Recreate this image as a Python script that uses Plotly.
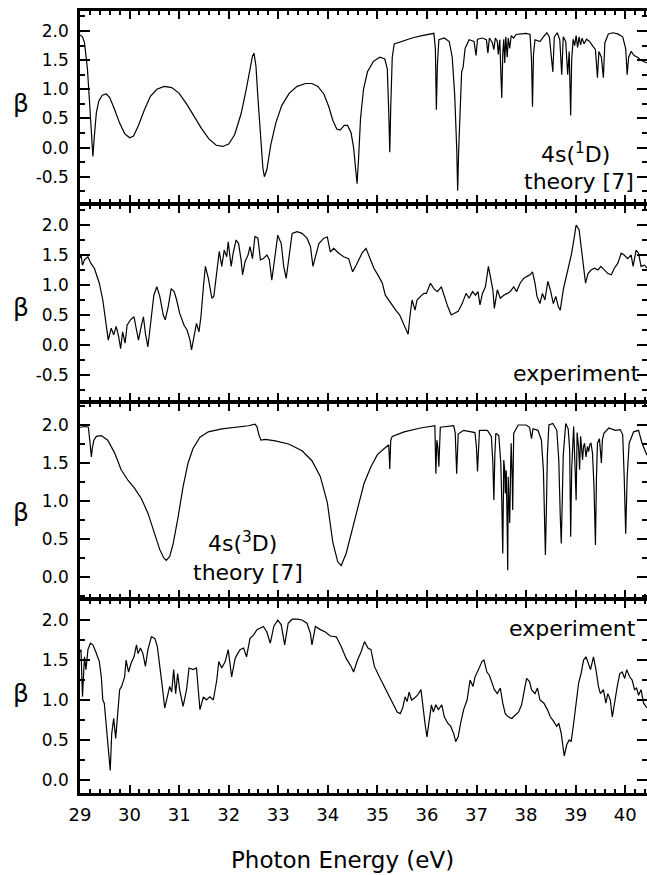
import plotly.graph_objects as go

# ---------------- data ----------------
# Panel 1: 4s(1D) theory
th1_x = [29.00,29.05,29.09,29.12,29.15,29.18,29.21,29.24,29.26,29.29,29.33,29.38,29.45,29.53,29.60,29.70,29.80,29.90,30.00,30.08,
         30.18,30.30,30.42,30.55,30.70,30.85,31.00,31.15,31.30,31.45,31.60,31.75,31.88,32.00,32.12,32.25,32.35,32.43,32.48,32.51,
         32.55,32.59,32.64,32.69,32.72,32.77,32.85,32.95,33.07,33.22,33.38,33.55,33.68,33.80,33.92,34.02,34.10,34.18,34.25,34.33,
         34.40,34.47,34.52,34.56,34.59,34.62,34.66,34.72,34.80,34.92,35.05,35.15,35.20,35.23,35.25,35.27,35.30,35.34,35.50,35.70,
         35.90,36.14,36.17,36.19,36.21,36.24,36.35,36.45,36.51,36.56,36.60,36.62,36.64,36.67,36.70,36.73,36.77,36.85,36.95,36.99,
         37.02,37.12,37.20,37.23,37.26,37.32,37.35,37.38,37.42,37.44,37.47,37.49,37.51,37.53,37.55,37.57,37.59,37.62,37.64,37.67,
         37.70,37.75,37.80,37.90,38.00,38.08,38.11,38.13,38.15,38.18,38.28,38.35,38.42,38.47,38.51,38.54,38.57,38.63,38.68,38.72,
         38.75,38.80,38.84,38.87,38.90,38.92,38.95,38.98,39.01,39.04,39.07,39.10,39.13,39.17,39.22,39.28,39.34,39.40,39.44,39.47,
         39.52,39.56,39.59,39.66,39.75,39.85,39.95,40.01,40.04,40.07,40.12,40.18,40.25,40.32,40.44]
th1_y = [1.93,1.90,1.80,1.62,1.35,0.95,0.45,0.00,-0.15,0.20,0.60,0.80,0.90,0.92,0.86,0.65,0.42,0.24,0.17,0.20,
         0.38,0.65,0.88,1.00,1.05,1.03,0.93,0.75,0.54,0.33,0.15,0.04,0.02,0.06,0.22,0.58,0.98,1.38,1.57,1.62,
         1.40,0.85,0.15,-0.35,-0.50,-0.38,0.05,0.42,0.72,0.93,1.05,1.10,1.10,1.05,0.92,0.70,0.47,0.32,0.30,0.38,
         0.38,0.25,0.00,-0.40,-0.62,-0.20,0.50,1.00,1.30,1.48,1.55,1.52,1.35,0.60,-0.08,0.70,1.55,1.78,1.83,1.88,
         1.92,1.96,1.70,0.65,1.40,1.85,1.88,1.82,1.55,0.90,0.00,-0.74,-0.05,0.85,1.30,1.38,1.70,1.85,1.82,1.58,
         1.86,1.88,1.85,1.62,1.88,1.80,1.68,1.88,1.82,1.60,1.85,1.30,0.85,1.60,1.86,1.45,1.90,1.55,1.88,1.70,
         1.92,1.88,1.94,1.95,1.96,1.94,1.50,0.70,1.60,1.85,1.82,1.90,1.97,1.90,1.60,1.30,1.90,1.97,1.85,1.25,
         1.90,1.82,1.25,1.65,0.55,1.50,1.86,1.75,1.92,1.72,1.90,1.76,1.88,1.78,1.86,1.82,1.75,1.68,1.20,1.65,
         1.55,1.20,1.80,1.95,1.97,1.95,1.90,1.70,1.25,1.55,1.65,1.58,1.55,1.50,1.45]

# Panel 2: 4s(1D) experiment
ex1_x = [29.00,29.02,29.05,29.09,29.16,29.22,29.29,29.39,29.46,29.53,29.57,29.63,29.68,29.73,29.78,29.82,29.86,29.91,29.95,30.02,
         30.09,30.14,30.18,30.24,30.28,30.32,30.37,30.44,30.49,30.55,30.61,30.68,30.72,30.78,30.84,30.90,30.95,31.01,31.10,31.16,
         31.22,31.25,31.30,31.35,31.40,31.44,31.49,31.53,31.59,31.66,31.70,31.76,31.81,31.86,31.91,31.96,31.99,32.05,32.09,32.15,
         32.20,32.25,32.28,32.33,32.39,32.43,32.48,32.53,32.59,32.64,32.70,32.77,32.82,32.87,32.93,32.99,33.06,33.11,33.16,33.21,
         33.28,33.38,33.48,33.58,33.65,33.70,33.75,33.82,33.92,33.99,34.05,34.12,34.22,34.32,34.42,34.50,34.56,34.63,34.69,34.77,
         34.85,34.93,35.03,35.10,35.16,35.27,35.37,35.45,35.52,35.57,35.62,35.66,35.70,35.76,35.80,35.87,35.94,35.99,36.07,36.14,
         36.21,36.29,36.35,36.42,36.49,36.56,36.63,36.71,36.79,36.85,36.92,36.98,37.03,37.07,37.12,37.18,37.24,37.28,37.33,37.36,
         37.42,37.48,37.55,37.62,37.68,37.75,37.81,37.88,37.95,38.01,38.08,38.13,38.18,38.22,38.28,38.33,38.38,38.44,38.49,38.55,
         38.60,38.65,38.69,38.75,38.81,38.87,38.92,38.97,39.01,39.07,39.11,39.16,39.20,39.25,39.31,39.38,39.45,39.51,39.58,39.65,
         39.72,39.78,39.85,39.92,39.98,40.05,40.12,40.16,40.22,40.27,40.32,40.39,40.44]
ex1_y = [1.45,1.50,1.33,1.42,1.47,1.36,1.28,1.03,0.75,0.36,0.08,0.28,0.17,0.31,0.14,-0.06,0.22,0.03,0.33,0.42,
         0.47,0.25,0.08,0.33,0.47,0.19,-0.03,0.47,0.83,0.97,0.81,0.50,0.42,0.64,0.94,0.89,0.75,0.53,0.33,0.25,
         0.08,-0.08,0.14,0.36,0.22,0.47,0.97,1.31,1.11,0.78,0.81,1.25,1.56,1.31,1.58,1.47,1.72,1.31,1.53,1.75,
         1.69,1.42,1.17,1.39,1.50,1.64,1.44,1.81,1.78,1.42,1.44,1.50,1.42,1.08,1.47,1.83,1.69,1.31,1.11,1.42,
         1.86,1.89,1.86,1.78,1.64,1.31,1.47,1.69,1.78,1.80,1.55,1.61,1.53,1.47,1.44,1.22,1.31,1.42,1.53,1.61,
         1.44,1.28,1.14,1.03,0.83,0.69,0.58,0.50,0.36,0.28,0.18,0.50,0.75,0.58,0.75,0.81,0.86,0.86,1.03,0.94,
         0.89,0.97,0.81,0.64,0.50,0.53,0.56,0.69,0.86,0.78,0.89,0.83,0.89,0.67,0.86,0.97,1.31,1.14,0.92,0.61,
         0.92,0.78,0.83,0.86,0.89,0.97,0.89,1.03,1.11,1.14,1.17,1.22,1.03,0.81,0.69,0.86,0.75,1.06,0.92,0.69,
         0.81,0.64,0.58,0.92,1.14,1.31,1.53,1.78,2.00,1.92,1.64,1.31,1.03,1.19,1.25,1.28,1.25,1.31,1.25,1.19,
         1.17,1.28,1.36,1.53,1.50,1.44,1.50,1.31,1.58,1.53,1.31,1.33,1.28]

# Panel 3: 4s(3D) theory
th3_x = [29.00,29.10,29.17,29.19,29.21,29.23,29.25,29.28,29.33,29.43,29.56,29.70,29.83,29.97,30.10,30.24,30.37,30.51,30.61,30.69,
         30.74,30.81,30.88,30.98,31.08,31.18,31.28,31.42,31.59,31.86,32.13,32.40,32.53,32.57,32.61,32.65,32.74,32.94,33.21,33.48,
         33.68,33.85,33.99,34.10,34.20,34.27,34.37,34.47,34.53,34.63,34.73,34.87,35.00,35.14,35.23,35.25,35.27,35.30,35.54,35.87,
         36.16,36.18,36.20,36.22,36.24,36.27,36.54,36.57,36.60,36.63,36.74,36.97,37.00,37.02,37.04,37.06,37.22,37.30,37.33,37.35,
         37.37,37.39,37.45,37.49,37.51,37.53,37.55,37.57,37.58,37.60,37.62,37.63,37.64,37.66,37.67,37.69,37.70,37.72,37.73,37.75,
         37.84,38.00,38.07,38.11,38.14,38.24,38.31,38.35,38.37,38.39,38.41,38.43,38.46,38.54,38.62,38.66,38.69,38.71,38.73,38.75,
         38.80,38.85,38.88,38.90,38.92,38.94,38.96,38.98,39.01,39.03,39.06,39.08,39.10,39.12,39.14,39.16,39.18,39.21,39.24,39.26,
         39.29,39.31,39.34,39.37,39.40,39.42,39.44,39.48,39.50,39.52,39.54,39.57,39.67,39.80,39.90,39.95,39.98,40.01,40.04,40.08,
         40.17,40.27,40.34,40.44]
th3_y = [1.97,1.98,1.97,1.85,1.70,1.58,1.70,1.80,1.85,1.86,1.80,1.63,1.41,1.27,1.17,1.03,0.84,0.57,0.36,0.25,
         0.22,0.27,0.44,0.79,1.19,1.50,1.69,1.84,1.91,1.95,1.97,1.99,2.01,1.98,1.87,1.80,1.81,1.79,1.75,1.66,
         1.53,1.32,0.98,0.46,0.20,0.15,0.31,0.57,0.71,0.97,1.23,1.45,1.61,1.69,1.74,1.42,1.80,1.85,1.91,1.96,
         1.99,1.36,1.80,1.71,1.45,1.97,1.99,1.90,1.36,1.88,1.93,1.90,1.70,1.39,1.80,1.93,1.93,1.85,1.50,1.01,
         1.60,1.89,1.86,1.50,1.00,0.31,1.54,1.40,1.10,1.40,0.60,0.09,1.32,1.00,0.71,1.50,1.76,1.30,0.88,1.89,
         2.00,2.00,1.97,1.82,1.95,1.93,1.80,1.40,0.80,0.29,0.90,1.60,2.00,2.02,1.93,1.54,0.80,0.44,1.00,1.60,
         2.02,1.95,1.67,0.53,1.40,1.80,1.98,1.60,1.01,1.90,1.70,1.41,1.85,1.70,1.54,1.72,1.76,1.58,1.72,1.65,
         1.75,1.76,1.63,1.20,0.42,1.30,1.76,1.82,1.65,1.50,1.80,1.89,1.96,1.93,1.94,1.87,1.32,0.57,1.32,1.76,
         1.91,1.93,1.76,1.60]

# Panel 4: 4s(3D) experiment
ex3_x = [29.00,29.02,29.05,29.09,29.12,29.16,29.21,29.26,29.32,29.39,29.43,29.46,29.49,29.53,29.57,29.61,29.64,29.68,29.72,29.75,
         29.80,29.84,29.90,29.93,29.98,30.03,30.09,30.14,30.17,30.22,30.27,30.32,30.37,30.44,30.51,30.56,30.61,30.66,30.71,30.76,
         30.81,30.85,30.89,30.93,30.97,31.01,31.08,31.15,31.20,31.28,31.35,31.42,31.49,31.55,31.62,31.69,31.76,31.80,31.86,31.93,
         31.99,32.06,32.13,32.18,32.23,32.30,32.36,32.43,32.50,32.57,32.64,32.70,32.77,32.84,32.91,32.99,33.06,33.13,33.20,33.28,
         33.38,33.48,33.58,33.65,33.68,33.75,33.85,33.95,34.05,34.17,34.27,34.37,34.47,34.52,34.60,34.67,34.74,34.81,34.87,34.94,
         35.04,35.14,35.21,35.28,35.34,35.40,35.46,35.51,35.56,35.60,35.64,35.69,35.74,35.81,35.88,35.91,35.96,36.00,36.05,36.09,
         36.13,36.18,36.23,36.30,36.35,36.42,36.48,36.54,36.58,36.63,36.68,36.74,36.81,36.87,36.93,36.97,37.04,37.11,37.15,37.21,
         37.26,37.31,37.36,37.42,37.48,37.53,37.58,37.64,37.71,37.78,37.85,37.91,37.96,38.01,38.07,38.11,38.18,38.23,38.28,38.36,
         38.43,38.49,38.56,38.62,38.66,38.71,38.77,38.82,38.87,38.91,38.96,39.01,39.06,39.11,39.16,39.21,39.26,39.30,39.36,39.41,
         39.46,39.50,39.56,39.61,39.65,39.70,39.74,39.79,39.84,39.89,39.94,39.99,40.03,40.09,40.14,40.19,40.23,40.27,40.32,40.37,
         40.44]
ex3_y = [1.60,1.63,1.04,1.54,1.38,1.63,1.71,1.69,1.60,1.48,1.29,1.00,0.96,0.71,0.42,0.12,0.58,0.77,0.52,0.79,
         1.13,1.17,1.29,1.50,1.35,1.46,1.54,1.69,1.58,1.65,1.58,1.42,1.63,1.79,1.77,1.67,1.44,1.17,0.90,1.04,
         1.17,1.10,1.38,1.08,1.33,1.13,0.92,1.13,1.40,1.38,1.40,0.88,1.04,1.00,1.04,1.00,1.25,1.48,1.40,1.48,
         1.63,1.29,1.52,1.58,1.63,1.65,1.54,1.77,1.81,1.88,1.90,1.92,1.85,1.71,1.92,2.00,1.94,1.69,1.96,2.01,
         2.01,2.00,1.96,1.83,1.69,1.92,1.88,1.85,1.80,1.79,1.67,1.52,1.42,1.35,1.50,1.60,1.73,1.65,1.63,1.42,
         1.29,1.17,1.08,1.00,0.94,0.85,0.83,0.90,1.04,0.98,1.10,1.00,1.02,1.06,1.13,0.96,0.71,0.54,0.77,0.94,
         0.85,0.94,0.88,0.94,0.79,0.71,0.67,0.58,0.48,0.54,0.71,0.88,1.00,1.25,1.17,1.29,1.38,1.48,1.50,1.35,
         1.31,1.21,1.13,1.08,1.15,0.96,0.83,0.79,0.77,0.81,0.85,0.94,1.13,1.27,1.23,1.13,1.08,1.15,1.00,0.96,
         0.88,0.79,0.73,0.67,0.71,0.58,0.30,0.44,0.50,0.48,0.71,0.96,1.21,1.33,1.50,1.54,1.46,1.38,1.54,1.38,
         1.17,1.08,1.13,0.96,1.08,1.00,0.79,1.00,1.17,1.33,1.35,1.27,1.38,1.29,1.25,1.13,1.15,1.06,1.13,0.96,
         0.90]

# axis ticks / labels
x_tick_vals = [29, 30, 31, 32, 33, 34, 35, 36, 37, 38, 39, 40]
y_tick_vals_a = [-0.5, 0.0, 0.5, 1.0, 1.5, 2.0]
y_tick_text_a = ["-0.5", "0.0", "0.5", "1.0", "1.5", "2.0"]
y_tick_vals_b = [0.0, 0.5, 1.0, 1.5, 2.0]
y_tick_text_b = ["0.0", "0.5", "1.0", "1.5", "2.0"]
panel_labels = [["4s(<sup>1</sup>D)", "theory [7]"], ["experiment"],
                ["4s(<sup>3</sup>D)", "theory [7]"], ["experiment"]]
x_title = "Photon Energy (eV)"
y_title = "β"

# ---------------- layout geometry ----------------
W, H = 647, 875
LW = 2.5  # frame line width
ML, MR, MT, MB = 80, 0, 10, 81
PW = W - ML - MR
PH = H - MT - MB
def px_x(px):
    return (px - ML) / PW
def px_y(py):
    return (H - MB - py) / PH

# frame lines (pixel rows) of the four stacked panels, top to bottom
bounds = [10, 204, 402, 599, 794]
# data area of each panel is inset by half a line width so neighbouring frame lines coincide
domains = [[px_y(bounds[i + 1] - LW / 2), px_y(bounds[i] + LW / 2)] for i in range(4)]
domains[0][1] = min(domains[0][1], 1.0)
domains[3][0] = max(domains[3][0], 0.0)
y_ranges = [[-0.946, 2.339], [-0.929, 2.329], [-0.273, 2.286], [-0.159, 2.247]]
x_range = [29, 40.44]
FONT = "DejaVu Sans"

series = [(th1_x, th1_y), (ex1_x, ex1_y), (th3_x, th3_y), (ex3_x, ex3_y)]
fig = go.Figure()
layout = dict(width=W, height=H, margin=dict(l=ML, r=MR, t=MT, b=MB),
              paper_bgcolor="white", plot_bgcolor="white", showlegend=False,
              font=dict(family=FONT, color="black"))

for i in range(4):
    xn = "x" if i == 0 else f"x{i+1}"
    yn = "y" if i == 0 else f"y{i+1}"
    yr = f"y{i+5}"
    xs, ys = series[i]
    fig.add_trace(go.Scatter(x=xs, y=ys, mode="lines", xaxis=xn, yaxis=yn,
                             line=dict(color="black", width=1.2), hoverinfo="skip"))
    fig.add_trace(go.Scatter(x=[None], y=[None], mode="lines", xaxis=xn, yaxis=yr,
                             hoverinfo="skip"))
    tv, tt = (y_tick_vals_a, y_tick_text_a) if i < 2 else (y_tick_vals_b, y_tick_text_b)
    xa = dict(domain=[0, 1], range=x_range, anchor=yn, showline=True, linewidth=LW,
              linecolor="black", mirror="ticks", ticks="inside", ticklen=8, tickwidth=2,
              tickcolor="black", tickmode="array", tickvals=x_tick_vals,
              showticklabels=(i == 3), tickfont=dict(family=FONT, size=18, color="black"),
              ticklabelstandoff=4,
              minor=dict(ticks="inside", dtick=0.2, tick0=29, ticklen=4, tickwidth=1.5,
                         tickcolor="black", showgrid=False),
              showgrid=False, zeroline=False, fixedrange=True)
    ya = dict(domain=domains[i], range=y_ranges[i], anchor=xn, showline=True,
              linewidth=LW, linecolor="black", ticks="inside", ticklen=10, tickwidth=2,
              tickcolor="black", tickmode="array", tickvals=tv, ticktext=tt,
              tickfont=dict(family=FONT, size=17, color="black"), ticklabelstandoff=5,
              minor=dict(ticks="inside", dtick=0.25, tick0=0, ticklen=5, tickwidth=1.5,
                         tickcolor="black", showgrid=False),
              showgrid=False, zeroline=False, fixedrange=True)
    yra = dict(overlaying=yn, side="right", anchor=xn, range=y_ranges[i], showline=False,
               ticks="inside", ticklen=10, tickwidth=2, tickcolor="black",
               tickmode="array", tickvals=tv, showticklabels=False,
               minor=dict(ticks="inside", dtick=0.25, tick0=0, ticklen=5, tickwidth=1.5,
                          tickcolor="black", showgrid=False),
               showgrid=False, zeroline=False, fixedrange=True)
    layout["xaxis" if i == 0 else f"xaxis{i+1}"] = xa
    layout["yaxis" if i == 0 else f"yaxis{i+1}"] = ya
    layout[f"yaxis{i+5}"] = yra

fig.update_layout(**layout)

ann = []
# beta labels
for py in [103, 307, 512, 693]:
    ann.append(dict(text=y_title, x=px_x(20.5), y=px_y(py), xref="paper", yref="paper",
                    xanchor="center", yanchor="middle", showarrow=False,
                    font=dict(family=FONT, size=25, color="black")))
# panel texts
text_pos = [[(575, 153), (579, 182)], [(576, 373)], [(242, 542), (248, 573)], [(572, 628)]]
for labels, poss in zip(panel_labels, text_pos):
    for t, (px, py) in zip(labels, poss):
        ann.append(dict(text=t, x=px_x(px), y=px_y(py), xref="paper", yref="paper",
                        xanchor="center", yanchor="middle", showarrow=False,
                        font=dict(family=FONT, size=22, color="black")))
ann.append(dict(text=x_title, x=px_x(342.5), y=px_y(860), xref="paper", yref="paper",
                xanchor="center", yanchor="middle", showarrow=False,
                font=dict(family=FONT, size=23, color="black")))
fig.update_layout(annotations=ann)

fig.write_html("out.html")
